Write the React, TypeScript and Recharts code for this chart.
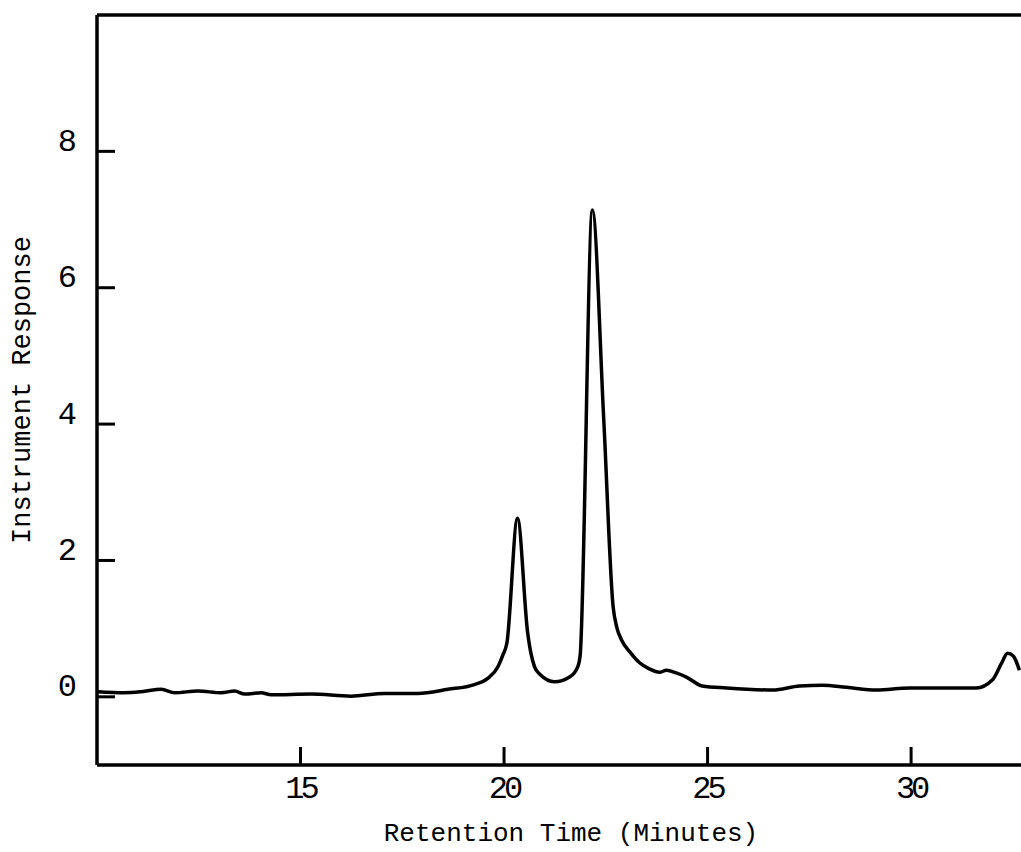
import React from 'react';
import { LineChart, Line, XAxis, YAxis, ReferenceLine, Label } from 'recharts';

// retention time (minutes) and instrument response
const retentionTimes = [
  10.02, 10.68, 11.09, 11.58, 11.91, 12.48, 13.05, 13.38, 13.63, 14.03, 14.28, 15.26, 16.24, 17.06, 17.88,
  18.62, 19.27, 19.6, 19.85, 19.97, 20.07, 20.33, 20.58, 20.66, 20.75, 20.88, 21.24, 21.61, 21.81, 21.87,
  22.17, 22.45, 22.68, 22.77, 22.89, 23.09, 23.33, 23.57, 23.82, 23.99, 24.23, 24.48, 24.87, 25.47, 26.6,
  27.26, 27.82, 28.41, 29.15, 29.96, 30.94, 31.6, 32.0, 32.22, 32.37, 32.51, 32.66,
];
const responses = [
  0.075, 0.06, 0.075, 0.11, 0.06, 0.085, 0.06, 0.085, 0.04, 0.06, 0.03, 0.04, 0.01, 0.05, 0.05,
  0.11, 0.18, 0.27, 0.44, 0.61, 0.79, 2.62, 0.94, 0.64, 0.44, 0.33, 0.22, 0.29, 0.44, 0.61,
  7.14, 4.06, 1.32, 1.02, 0.83, 0.66, 0.5, 0.41, 0.36, 0.39, 0.35, 0.29, 0.16, 0.13, 0.1,
  0.16, 0.17, 0.14, 0.1, 0.13, 0.13, 0.13, 0.25, 0.49, 0.64, 0.6, 0.39,
];

const xTicks = [15, 20, 25, 30];
const yTicks = [0, 2, 4, 6, 8];

const data = retentionTimes.map((t, i) => ({ t, r: responses[i] }));

const FONT = '"Liberation Mono", "Courier New", monospace';
const INK = '#000';

const YTick = (props: any) => {
  const { x, y, payload } = props;
  return (
    <g>
      <line x1={x + 20} x2={x + 38} y1={y} y2={y} stroke={INK} strokeWidth={3} />
      <text x={x} y={y - 9} textAnchor="end" dominantBaseline="central" fontFamily={FONT} fontSize={32} fill={INK}>
        {payload.value}
      </text>
    </g>
  );
};

const XTick = (props: any) => {
  const { x, y, payload } = props;
  return (
    <g>
      <line x1={x} x2={x} y1={y - 12} y2={y - 30} stroke={INK} strokeWidth={3} />
      <text x={x} y={y + 12} textAnchor="middle" dominantBaseline="central" fontFamily={FONT} fontSize={32} letterSpacing={-4} fill={INK}>
        {payload.value}
      </text>
    </g>
  );
};

export default function App() {
  return (
    <div style={{ position: 'absolute', left: 0, top: 0, width: 1021, height: 852, background: '#fff' }}>
      <LineChart width={1021} height={852} data={data} margin={{ top: 15, right: 0, bottom: 0, left: 0 }}>
        <XAxis
          dataKey="t"
          type="number"
          domain={[10, 32.7]}
          ticks={xTicks}
          allowDataOverflow
          height={87}
          tickSize={0}
          tickMargin={12}
          tick={<XTick />}
          axisLine={{ stroke: INK, strokeWidth: 3.5 }}
        >
          <Label
            content={() => (
              <text x={571} y={834} textAnchor="middle" dominantBaseline="central" fontFamily={FONT} fontSize={26} fill={INK}>
                Retention Time (Minutes)
              </text>
            )}
          />
        </XAxis>
        <YAxis
          type="number"
          domain={[-1, 10]}
          ticks={yTicks}
          allowDataOverflow
          width={97}
          tickSize={0}
          tickMargin={20}
          tick={<YTick />}
          axisLine={{ stroke: INK, strokeWidth: 3.5 }}
        >
          <Label
            content={() => (
              <text
                x={23}
                y={390}
                transform="rotate(-90, 23, 390)"
                textAnchor="middle"
                dominantBaseline="central"
                fontFamily={FONT}
                fontSize={27}
                fill={INK}
              >
                Instrument Response
              </text>
            )}
          />
        </YAxis>
        <ReferenceLine y={10} stroke={INK} strokeWidth={3.5} />
        <Line type="monotone" dataKey="r" stroke={INK} strokeWidth={3.5} dot={false} isAnimationActive={false} />
      </LineChart>
    </div>
  );
}
